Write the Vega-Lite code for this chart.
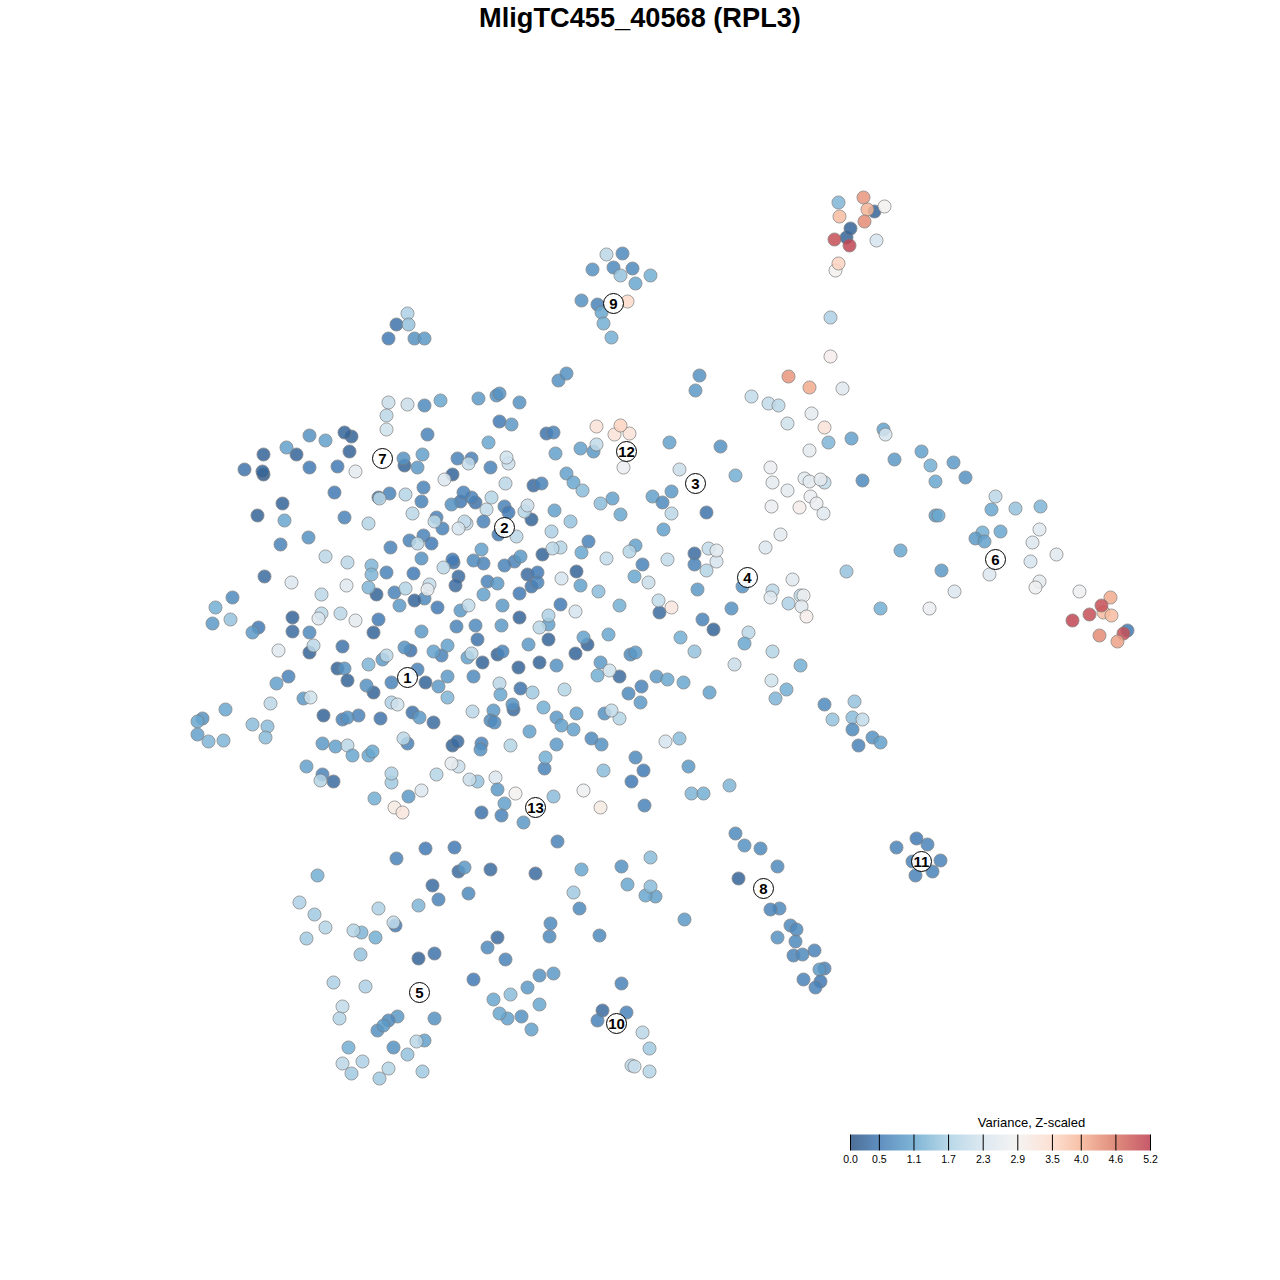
{"$schema":"https://vega.github.io/schema/vega-lite/v6.json","width":1280,"height":1280,"padding":0,"autosize":{"type":"none"},"background":"white",
"title":{"text":"MligTC455_40568 (RPL3)","font":"Liberation Sans","fontSize":27.2,"fontWeight":"bold","color":"#000000","anchor":"middle","baseline":"alphabetic","offset":-54},
"datasets":{"cells":[
{"x":388,"y":402,"v":2.1},{"x":407,"y":404,"v":2.1},{"x":424,"y":405,"v":0.7},{"x":440,"y":400,"v":1.1},{"x":478,"y":398,"v":0.9},{"x":386,"y":415,"v":1.9},{"x":386,"y":429,"v":2.2},{"x":427,"y":434,"v":0.6},{"x":309,"y":435,"v":0.8},{"x":325,"y":440,"v":1.0},{"x":351,"y":436,"v":0.2},{"x":344,"y":432,"v":0.2},{"x":296,"y":454,"v":0.2},{"x":286,"y":447,"v":1.0},{"x":263,"y":454,"v":0.2},{"x":349,"y":451,"v":0.2},{"x":244,"y":469,"v":0.4},{"x":263,"y":474,"v":0.1},{"x":262,"y":471,"v":0.2},{"x":309,"y":467,"v":0.5},{"x":337,"y":466,"v":0.5},{"x":355,"y":471,"v":2.6},{"x":404,"y":465,"v":0.2},{"x":403,"y":458,"v":0.8},{"x":422,"y":454,"v":1.0},{"x":417,"y":467,"v":0.9},{"x":471,"y":458,"v":0.6},{"x":457,"y":458,"v":0.6},{"x":468,"y":463,"v":2.0},{"x":490,"y":467,"v":0.6},{"x":452,"y":474,"v":0.2},{"x":444,"y":479,"v":2.4},{"x":334,"y":492,"v":0.5},{"x":378,"y":497,"v":0.3},{"x":389,"y":493,"v":0.6},{"x":379,"y":498,"v":1.9},{"x":405,"y":494,"v":1.8},{"x":423,"y":487,"v":0.6},{"x":421,"y":501,"v":0.6},{"x":475,"y":502,"v":0.4},{"x":471,"y":497,"v":0.6},{"x":460,"y":501,"v":0.5},{"x":463,"y":492,"v":0.6},{"x":451,"y":504,"v":0.8},{"x":491,"y":497,"v":1.8},{"x":486,"y":509,"v":2.0},{"x":282,"y":503,"v":0.2},{"x":257,"y":515,"v":0.2},{"x":284,"y":520,"v":1.1},{"x":344,"y":517,"v":0.6},{"x":368,"y":523,"v":1.8},{"x":412,"y":513,"v":1.9},{"x":436,"y":517,"v":0.6},{"x":442,"y":528,"v":0.6},{"x":434,"y":521,"v":1.9},{"x":466,"y":523,"v":2.0},{"x":464,"y":521,"v":2.0},{"x":458,"y":528,"v":2.3},{"x":483,"y":521,"v":0.6},{"x":308,"y":537,"v":0.8},{"x":280,"y":544,"v":0.6},{"x":325,"y":556,"v":1.9},{"x":347,"y":562,"v":1.9},{"x":390,"y":547,"v":0.6},{"x":409,"y":540,"v":0.6},{"x":423,"y":535,"v":0.6},{"x":431,"y":543,"v":0.5},{"x":417,"y":543,"v":1.9},{"x":421,"y":558,"v":0.8},{"x":453,"y":562,"v":0.4},{"x":452,"y":559,"v":0.5},{"x":443,"y":567,"v":1.9},{"x":483,"y":563,"v":0.6},{"x":473,"y":560,"v":0.7},{"x":481,"y":549,"v":1.0},{"x":371,"y":565,"v":1.3},{"x":371,"y":574,"v":1.3},{"x":386,"y":572,"v":0.6},{"x":413,"y":573,"v":0.5},{"x":264,"y":576,"v":0.3},{"x":291,"y":582,"v":2.4},{"x":346,"y":585,"v":2.5},{"x":376,"y":594,"v":0.2},{"x":368,"y":587,"v":1.3},{"x":394,"y":592,"v":0.6},{"x":405,"y":588,"v":1.8},{"x":429,"y":584,"v":2.0},{"x":424,"y":598,"v":0.7},{"x":427,"y":589,"v":2.6},{"x":458,"y":576,"v":0.3},{"x":455,"y":585,"v":0.3},{"x":487,"y":581,"v":0.6},{"x":483,"y":594,"v":1.0},{"x":414,"y":600,"v":0.2},{"x":399,"y":605,"v":0.9},{"x":437,"y":607,"v":0.5},{"x":460,"y":610,"v":0.9},{"x":468,"y":605,"v":2.0},{"x":232,"y":597,"v":0.7},{"x":215,"y":607,"v":1.2},{"x":230,"y":619,"v":1.5},{"x":212,"y":623,"v":0.9},{"x":292,"y":617,"v":0.2},{"x":321,"y":594,"v":1.9},{"x":321,"y":613,"v":1.9},{"x":318,"y":618,"v":2.4},{"x":340,"y":613,"v":1.9},{"x":355,"y":620,"v":2.6},{"x":378,"y":619,"v":0.5},
{"x":258,"y":627,"v":0.5},{"x":252,"y":632,"v":0.9},{"x":292,"y":631,"v":0.3},{"x":309,"y":632,"v":0.7},{"x":309,"y":652,"v":0.2},{"x":313,"y":645,"v":1.9},{"x":278,"y":650,"v":2.5},{"x":342,"y":646,"v":0.4},{"x":373,"y":632,"v":0.2},{"x":421,"y":631,"v":0.9},{"x":456,"y":626,"v":0.6},{"x":475,"y":625,"v":0.7},{"x":477,"y":639,"v":0.4},{"x":410,"y":650,"v":0.4},{"x":404,"y":647,"v":0.8},{"x":441,"y":655,"v":0.6},{"x":433,"y":651,"v":1.0},{"x":447,"y":645,"v":1.0},{"x":467,"y":657,"v":1.0},{"x":471,"y":653,"v":1.9},{"x":482,"y":662,"v":0.2},{"x":382,"y":659,"v":0.9},{"x":386,"y":655,"v":1.9},{"x":368,"y":664,"v":1.3},{"x":337,"y":668,"v":0.2},{"x":344,"y":668,"v":0.8},{"x":347,"y":680,"v":0.2},{"x":288,"y":676,"v":0.6},{"x":276,"y":683,"v":1.0},{"x":373,"y":692,"v":0.2},{"x":366,"y":685,"v":0.8},{"x":391,"y":682,"v":0.6},{"x":417,"y":669,"v":0.6},{"x":425,"y":682,"v":0.2},{"x":447,"y":676,"v":0.9},{"x":438,"y":686,"v":0.9},{"x":473,"y":676,"v":0.7},{"x":447,"y":697,"v":1.3},{"x":303,"y":698,"v":0.9},{"x":310,"y":697,"v":2.2},{"x":270,"y":703,"v":1.9},{"x":391,"y":702,"v":1.7},{"x":397,"y":704,"v":2.2},{"x":225,"y":709,"v":1.1},{"x":412,"y":712,"v":0.4},{"x":419,"y":717,"v":0.9},{"x":433,"y":722,"v":0.3},{"x":472,"y":711,"v":1.9},{"x":323,"y":715,"v":0.2},{"x":358,"y":715,"v":0.6},{"x":342,"y":719,"v":0.6},{"x":347,"y":717,"v":0.8},{"x":380,"y":718,"v":0.4},{"x":202,"y":718,"v":0.8},{"x":197,"y":721,"v":1.1},{"x":252,"y":724,"v":1.4},{"x":267,"y":726,"v":1.4},{"x":197,"y":734,"v":1.0},{"x":208,"y":741,"v":1.3},{"x":223,"y":740,"v":1.3},{"x":265,"y":737,"v":1.4},{"x":407,"y":743,"v":0.6},{"x":403,"y":738,"v":1.9},{"x":322,"y":743,"v":0.9},{"x":335,"y":746,"v":1.0},{"x":347,"y":745,"v":1.9},{"x":352,"y":755,"v":1.1},{"x":368,"y":755,"v":1.1},{"x":372,"y":751,"v":1.1},{"x":452,"y":745,"v":0.2},{"x":457,"y":741,"v":0.3},{"x":481,"y":743,"v":0.6},{"x":480,"y":749,"v":0.8},{"x":306,"y":766,"v":1.0},{"x":322,"y":774,"v":0.6},{"x":333,"y":781,"v":0.3},{"x":320,"y":780,"v":1.8},{"x":391,"y":782,"v":1.6},{"x":391,"y":773,"v":1.7},{"x":436,"y":774,"v":1.8},{"x":458,"y":766,"v":2.1},{"x":451,"y":763,"v":2.6},{"x":477,"y":781,"v":1.5},{"x":469,"y":779,"v":2.1},{"x":374,"y":798,"v":1.2},{"x":408,"y":796,"v":0.9},{"x":421,"y":790,"v":2.4},{"x":394,"y":807,"v":3.1},{"x":402,"y":812,"v":3.2},{"x":481,"y":812,"v":0.4},
{"x":496,"y":395,"v":0.8},{"x":499,"y":393,"v":0.8},{"x":519,"y":402,"v":0.8},{"x":558,"y":380,"v":0.8},{"x":566,"y":373,"v":0.8},{"x":499,"y":421,"v":0.5},{"x":511,"y":424,"v":0.9},{"x":695,"y":390,"v":0.9},{"x":699,"y":375,"v":0.8},{"x":488,"y":442,"v":1.1},{"x":546,"y":433,"v":0.4},{"x":553,"y":432,"v":0.6},{"x":555,"y":453,"v":1.0},{"x":580,"y":448,"v":1.0},{"x":593,"y":451,"v":0.9},{"x":596,"y":444,"v":2.0},{"x":596,"y":426,"v":3.3},{"x":614,"y":434,"v":3.3},{"x":629,"y":433,"v":3.3},{"x":620,"y":425,"v":3.6},{"x":623,"y":467,"v":2.7},{"x":669,"y":442,"v":1.0},{"x":720,"y":446,"v":0.8},{"x":679,"y":469,"v":2.1},{"x":735,"y":475,"v":1.2},{"x":508,"y":463,"v":2.1},{"x":506,"y":457,"v":2.2},{"x":505,"y":483,"v":1.9},{"x":533,"y":485,"v":0.3},{"x":541,"y":483,"v":0.6},{"x":566,"y":473,"v":1.0},{"x":573,"y":482,"v":1.1},{"x":582,"y":490,"v":1.4},{"x":612,"y":498,"v":1.0},{"x":600,"y":503,"v":1.4},{"x":620,"y":514,"v":1.1},{"x":652,"y":496,"v":1.0},{"x":662,"y":502,"v":0.7},{"x":671,"y":491,"v":0.9},{"x":671,"y":513,"v":1.9},{"x":706,"y":512,"v":0.4},{"x":663,"y":529,"v":1.0},{"x":504,"y":506,"v":0.6},{"x":508,"y":512,"v":0.5},{"x":531,"y":519,"v":0.2},{"x":524,"y":511,"v":1.8},{"x":527,"y":505,"v":2.1},{"x":554,"y":510,"v":1.0},{"x":570,"y":521,"v":1.5},{"x":498,"y":534,"v":0.5},{"x":516,"y":536,"v":1.9},{"x":551,"y":531,"v":1.7},{"x":588,"y":541,"v":0.6},{"x":581,"y":552,"v":1.1},{"x":560,"y":547,"v":1.8},{"x":542,"y":554,"v":0.2},{"x":552,"y":548,"v":1.9},{"x":514,"y":561,"v":0.6},{"x":520,"y":556,"v":0.9},{"x":504,"y":565,"v":0.6},{"x":635,"y":545,"v":1.0},{"x":629,"y":551,"v":1.8},{"x":606,"y":558,"v":2.0},{"x":642,"y":564,"v":0.6},{"x":667,"y":559,"v":2.0},{"x":694,"y":553,"v":0.3},{"x":694,"y":564,"v":0.6},{"x":708,"y":548,"v":2.0},{"x":716,"y":561,"v":2.3},{"x":716,"y":550,"v":2.5},{"x":706,"y":570,"v":1.8},{"x":634,"y":576,"v":1.1},{"x":648,"y":582,"v":2.1},{"x":697,"y":589,"v":0.9},{"x":576,"y":571,"v":0.2},{"x":561,"y":578,"v":2.3},{"x":580,"y":585,"v":1.0},{"x":598,"y":591,"v":1.4},{"x":527,"y":574,"v":0.3},{"x":537,"y":572,"v":0.5},{"x":531,"y":586,"v":0.4},{"x":537,"y":582,"v":0.6},{"x":519,"y":593,"v":0.5},{"x":497,"y":583,"v":0.9},{"x":502,"y":605,"v":0.9},{"x":560,"y":604,"v":0.5},{"x":575,"y":611,"v":2.3},{"x":619,"y":605,"v":1.2},{"x":659,"y":612,"v":0.3},{"x":658,"y":600,"v":2.0},{"x":671,"y":607,"v":3.2},{"x":702,"y":619,"v":0.6},{"x":731,"y":608,"v":0.8},{"x":519,"y":617,"v":0.2},
{"x":501,"y":625,"v":0.9},{"x":548,"y":624,"v":1.0},{"x":539,"y":627,"v":1.9},{"x":548,"y":615,"v":1.7},{"x":528,"y":644,"v":0.9},{"x":548,"y":639,"v":0.2},{"x":587,"y":644,"v":0.2},{"x":583,"y":637,"v":1.0},{"x":608,"y":634,"v":1.1},{"x":680,"y":637,"v":1.2},{"x":713,"y":629,"v":0.2},{"x":575,"y":653,"v":0.2},{"x":497,"y":654,"v":0.2},{"x":502,"y":651,"v":0.6},{"x":499,"y":683,"v":1.9},{"x":500,"y":694,"v":1.1},{"x":518,"y":667,"v":0.2},{"x":539,"y":662,"v":0.2},{"x":556,"y":665,"v":0.8},{"x":520,"y":688,"v":0.4},{"x":532,"y":692,"v":1.6},{"x":564,"y":689,"v":1.8},{"x":600,"y":662,"v":0.9},{"x":597,"y":675,"v":1.2},{"x":619,"y":676,"v":0.3},{"x":609,"y":670,"v":2.2},{"x":630,"y":654,"v":0.7},{"x":635,"y":652,"v":0.9},{"x":656,"y":676,"v":0.9},{"x":667,"y":679,"v":1.1},{"x":683,"y":682,"v":1.1},{"x":694,"y":651,"v":1.5},{"x":734,"y":664,"v":2.1},{"x":709,"y":692,"v":1.0},{"x":641,"y":686,"v":0.6},{"x":628,"y":693,"v":0.7},{"x":640,"y":702,"v":0.9},{"x":493,"y":710,"v":0.9},{"x":513,"y":709,"v":0.3},{"x":512,"y":704,"v":0.8},{"x":490,"y":720,"v":0.7},{"x":494,"y":722,"v":0.7},{"x":543,"y":707,"v":1.2},{"x":556,"y":717,"v":0.9},{"x":576,"y":713,"v":1.0},{"x":561,"y":725,"v":1.0},{"x":573,"y":729,"v":1.0},{"x":604,"y":713,"v":0.8},{"x":619,"y":718,"v":1.8},{"x":611,"y":710,"v":2.0},{"x":529,"y":731,"v":1.0},{"x":591,"y":738,"v":0.7},{"x":601,"y":744,"v":0.8},{"x":510,"y":745,"v":1.8},{"x":556,"y":744,"v":0.9},{"x":679,"y":738,"v":1.4},{"x":665,"y":741,"v":2.3},{"x":544,"y":768,"v":0.6},{"x":545,"y":757,"v":1.2},{"x":635,"y":757,"v":0.7},{"x":643,"y":770,"v":0.5},{"x":631,"y":781,"v":0.5},{"x":688,"y":766,"v":0.9},{"x":603,"y":770,"v":1.4},{"x":495,"y":777,"v":2.4},{"x":497,"y":789,"v":0.9},{"x":515,"y":793,"v":2.9},{"x":504,"y":803,"v":1.0},{"x":553,"y":796,"v":1.4},{"x":583,"y":790,"v":2.8},{"x":600,"y":807,"v":3.1},{"x":691,"y":793,"v":1.3},{"x":703,"y":793,"v":1.2},{"x":729,"y":785,"v":1.3},{"x":644,"y":805,"v":0.6},{"x":501,"y":815,"v":0.6},{"x":523,"y":822,"v":0.9},{"x":557,"y":841,"v":0.6},
{"x":838,"y":202,"v":1.3},{"x":839,"y":216,"v":3.9},{"x":874,"y":211,"v":0.2},{"x":884,"y":206,"v":2.9},{"x":863,"y":197,"v":4.3},{"x":867,"y":209,"v":4.0},{"x":864,"y":221,"v":4.4},{"x":846,"y":237,"v":0.2},{"x":850,"y":228,"v":0.2},{"x":834,"y":239,"v":5.0},{"x":849,"y":245,"v":5.1},{"x":876,"y":240,"v":2.3},{"x":835,"y":270,"v":2.9},{"x":838,"y":263,"v":3.6},
{"x":606,"y":254,"v":1.9},{"x":622,"y":253,"v":0.7},{"x":592,"y":269,"v":0.8},{"x":613,"y":267,"v":0.7},{"x":632,"y":268,"v":0.7},{"x":620,"y":275,"v":1.5},{"x":650,"y":275,"v":1.2},{"x":635,"y":283,"v":1.1},{"x":581,"y":300,"v":0.8},{"x":597,"y":304,"v":0.6},{"x":627,"y":301,"v":3.5},{"x":601,"y":312,"v":1.1},{"x":603,"y":323,"v":1.2},{"x":611,"y":337,"v":1.2},
{"x":396,"y":324,"v":0.4},{"x":407,"y":313,"v":1.7},{"x":408,"y":324,"v":1.5},{"x":388,"y":338,"v":0.5},{"x":414,"y":338,"v":0.8},{"x":424,"y":338,"v":0.9},
{"x":830,"y":317,"v":1.7},{"x":830,"y":356,"v":3.0},{"x":842,"y":388,"v":2.5},{"x":788,"y":376,"v":4.3},{"x":809,"y":387,"v":4.1},{"x":751,"y":396,"v":2.0},{"x":768,"y":403,"v":2.0},{"x":778,"y":405,"v":1.9},{"x":811,"y":413,"v":2.6},{"x":787,"y":423,"v":2.2},{"x":824,"y":427,"v":3.3},{"x":828,"y":442,"v":1.3},{"x":851,"y":438,"v":1.0},{"x":883,"y":429,"v":1.0},{"x":885,"y":434,"v":2.3},{"x":809,"y":450,"v":2.6},{"x":921,"y":451,"v":1.0},{"x":894,"y":459,"v":0.9},{"x":930,"y":465,"v":1.2},{"x":953,"y":462,"v":0.9},{"x":965,"y":477,"v":0.8},{"x":935,"y":481,"v":1.1},{"x":862,"y":480,"v":0.7},{"x":770,"y":467,"v":2.7},{"x":772,"y":482,"v":2.6},{"x":787,"y":490,"v":2.6},{"x":804,"y":478,"v":2.5},{"x":824,"y":482,"v":2.0},{"x":809,"y":481,"v":2.6},{"x":820,"y":479,"v":2.6},{"x":810,"y":496,"v":2.7},{"x":799,"y":507,"v":3.0},{"x":816,"y":503,"v":2.7},{"x":771,"y":506,"v":2.7},{"x":823,"y":513,"v":2.5},{"x":780,"y":534,"v":2.6},{"x":765,"y":547,"v":2.4},{"x":995,"y":496,"v":1.9},{"x":991,"y":509,"v":1.1},{"x":1015,"y":508,"v":1.5},{"x":1040,"y":506,"v":1.3},{"x":1039,"y":529,"v":2.5},{"x":935,"y":515,"v":0.9},{"x":938,"y":515,"v":1.1},{"x":982,"y":532,"v":1.2},{"x":1000,"y":531,"v":1.1},{"x":975,"y":538,"v":0.9},{"x":984,"y":541,"v":1.0},{"x":1032,"y":542,"v":2.4},{"x":1056,"y":554,"v":2.5},{"x":1030,"y":561,"v":2.3},{"x":900,"y":550,"v":1.1},{"x":941,"y":570,"v":0.9},{"x":846,"y":571,"v":1.5},{"x":989,"y":574,"v":2.4},{"x":1039,"y":581,"v":2.6},{"x":1035,"y":587,"v":2.8},{"x":954,"y":591,"v":2.4},{"x":929,"y":608,"v":2.7},{"x":880,"y":608,"v":1.2},{"x":792,"y":579,"v":2.5},{"x":772,"y":590,"v":1.9},{"x":770,"y":597,"v":2.5},{"x":800,"y":595,"v":1.9},{"x":803,"y":595,"v":2.8},{"x":788,"y":603,"v":1.7},{"x":801,"y":606,"v":2.5},{"x":806,"y":616,"v":3.0},{"x":1079,"y":591,"v":2.8},{"x":1110,"y":597,"v":4.1},{"x":1103,"y":612,"v":3.9},{"x":1111,"y":615,"v":3.9},{"x":1101,"y":605,"v":5.0},{"x":1089,"y":614,"v":5.0},{"x":1072,"y":620,"v":5.1},{"x":1127,"y":630,"v":0.5},{"x":1123,"y":633,"v":5.0},{"x":1099,"y":635,"v":4.4},{"x":1117,"y":641,"v":4.2},{"x":742,"y":586,"v":0.8},{"x":748,"y":632,"v":1.9},{"x":744,"y":643,"v":1.1},{"x":772,"y":651,"v":1.8},{"x":800,"y":665,"v":1.2},{"x":771,"y":680,"v":2.2},{"x":786,"y":689,"v":1.2},{"x":775,"y":698,"v":1.3},{"x":824,"y":704,"v":0.7},{"x":854,"y":701,"v":1.5},{"x":832,"y":719,"v":1.5},{"x":852,"y":717,"v":1.4},{"x":862,"y":719,"v":2.0},{"x":852,"y":729,"v":0.7},{"x":872,"y":737,"v":0.8},{"x":880,"y":742,"v":1.0},{"x":858,"y":745,"v":0.6},
{"x":735,"y":833,"v":0.7},{"x":744,"y":845,"v":0.8},{"x":760,"y":848,"v":0.7},{"x":777,"y":866,"v":0.7},{"x":738,"y":878,"v":0.2},{"x":779,"y":908,"v":0.7},{"x":770,"y":909,"v":0.6},{"x":790,"y":925,"v":0.7},{"x":796,"y":929,"v":0.7},{"x":777,"y":937,"v":0.8},{"x":795,"y":941,"v":0.7},{"x":814,"y":950,"v":0.6},{"x":793,"y":955,"v":0.6},{"x":802,"y":954,"v":0.7},{"x":824,"y":968,"v":0.6},{"x":819,"y":969,"v":0.9},{"x":803,"y":979,"v":0.6},{"x":820,"y":981,"v":0.5},{"x":815,"y":987,"v":0.6},
{"x":916,"y":838,"v":0.5},{"x":927,"y":844,"v":0.6},{"x":896,"y":847,"v":0.6},{"x":912,"y":861,"v":0.6},{"x":940,"y":860,"v":0.6},{"x":915,"y":875,"v":0.6},{"x":932,"y":871,"v":0.6},
{"x":425,"y":848,"v":0.5},{"x":454,"y":847,"v":0.5},{"x":396,"y":858,"v":0.6},{"x":458,"y":871,"v":0.3},{"x":464,"y":867,"v":0.9},{"x":490,"y":869,"v":0.3},{"x":535,"y":873,"v":0.3},{"x":581,"y":869,"v":1.1},{"x":621,"y":866,"v":0.8},{"x":650,"y":857,"v":1.4},{"x":317,"y":875,"v":1.2},{"x":432,"y":885,"v":0.3},{"x":627,"y":884,"v":1.1},{"x":655,"y":896,"v":1.0},{"x":645,"y":895,"v":1.1},{"x":650,"y":886,"v":1.4},{"x":573,"y":892,"v":1.6},{"x":468,"y":893,"v":0.7},{"x":438,"y":899,"v":0.6},{"x":418,"y":905,"v":1.3},{"x":299,"y":902,"v":1.7},{"x":378,"y":908,"v":1.7},{"x":314,"y":914,"v":1.6},{"x":579,"y":908,"v":0.7},{"x":684,"y":919,"v":0.9},{"x":395,"y":925,"v":0.5},{"x":393,"y":922,"v":2.0},{"x":550,"y":923,"v":0.7},{"x":325,"y":927,"v":1.8},{"x":361,"y":932,"v":1.3},{"x":353,"y":930,"v":1.8},{"x":375,"y":937,"v":1.2},{"x":306,"y":938,"v":1.6},{"x":549,"y":936,"v":0.7},{"x":599,"y":935,"v":0.7},{"x":497,"y":937,"v":0.3},{"x":487,"y":947,"v":0.7},{"x":360,"y":954,"v":1.5},{"x":434,"y":953,"v":0.4},{"x":418,"y":958,"v":0.2},{"x":505,"y":959,"v":0.6},{"x":553,"y":973,"v":0.9},{"x":539,"y":975,"v":0.8},{"x":473,"y":979,"v":0.5},{"x":333,"y":982,"v":1.7},{"x":365,"y":986,"v":1.7},{"x":527,"y":987,"v":0.9},{"x":621,"y":983,"v":0.6},{"x":510,"y":994,"v":1.4},{"x":493,"y":999,"v":1.1},{"x":539,"y":1004,"v":1.1},{"x":342,"y":1006,"v":2.0},{"x":602,"y":1010,"v":0.3},{"x":626,"y":1012,"v":0.6},{"x":507,"y":1018,"v":1.0},{"x":499,"y":1013,"v":1.1},{"x":521,"y":1016,"v":0.8},{"x":397,"y":1016,"v":0.9},{"x":388,"y":1020,"v":0.7},{"x":434,"y":1018,"v":0.8},{"x":339,"y":1018,"v":1.8},{"x":377,"y":1030,"v":0.8},{"x":383,"y":1025,"v":0.9},{"x":597,"y":1020,"v":0.6},{"x":531,"y":1029,"v":1.0},{"x":642,"y":1032,"v":1.9},{"x":424,"y":1040,"v":1.0},{"x":416,"y":1041,"v":1.9},{"x":393,"y":1047,"v":0.8},{"x":348,"y":1047,"v":1.2},{"x":649,"y":1048,"v":1.6},{"x":407,"y":1054,"v":1.5},{"x":342,"y":1063,"v":1.9},{"x":362,"y":1061,"v":1.7},{"x":631,"y":1065,"v":1.9},{"x":634,"y":1066,"v":2.1},{"x":388,"y":1068,"v":1.8},{"x":351,"y":1073,"v":1.6},{"x":422,"y":1071,"v":1.6},{"x":649,"y":1071,"v":1.8},{"x":379,"y":1078,"v":1.6}
],
"clusters":[{"x":407,"y":677,"c":"1"},{"x":504,"y":527,"c":"2"},{"x":695,"y":483,"c":"3"},{"x":747,"y":577,"c":"4"},{"x":419,"y":992,"c":"5"},{"x":995,"y":559,"c":"6"},{"x":382,"y":458,"c":"7"},{"x":763,"y":888,"c":"8"},{"x":613,"y":303,"c":"9"},{"x":616,"y":1023,"c":"10"},{"x":921,"y":861,"c":"11"},{"x":626,"y":451,"c":"12"},{"x":535,"y":807,"c":"13"}],
"bar":[{"t":0,"t2":5.2,"a":1134,"b":1150}],
"ticks":[{"t":0,"a":1134,"b":1150,"l":1159},{"t":0.5,"a":1134,"b":1150,"l":1159},{"t":1.1,"a":1134,"b":1150,"l":1159},{"t":1.7,"a":1134,"b":1150,"l":1159},{"t":2.3,"a":1134,"b":1150,"l":1159},{"t":2.9,"a":1134,"b":1150,"l":1159},{"t":3.5,"a":1134,"b":1150,"l":1159},{"t":4.0,"a":1134,"b":1150,"l":1159},{"t":4.6,"a":1134,"b":1150,"l":1159},{"t":5.2,"a":1134,"b":1150,"l":1159}],
"legendTitle":[{"x":1031,"y":1122,"t":"Variance, Z-scaled"}]},
"layer":[
{"data":{"name":"cells"},"mark":{"type":"circle","size":172,"opacity":0.85,"stroke":"#7a7a7a","strokeWidth":0.8},
"encoding":{"x":{"field":"x","type":"quantitative","scale":{"domain":[-0.5,1279.5]},"axis":null},"y":{"field":"y","type":"quantitative","scale":{"domain":[1279.5,-0.5]},"axis":null},
"fill":{"field":"v","type":"quantitative","legend":null,"scale":{"interpolate":"rgb","domain":[0,0.5,1.1,1.7,2.3,2.9,3.5,4.0,4.6,5.2],"range":["#2e5684","#437bb5","#69a8cf","#add1e4","#d7e5ef","#f3f1f0","#fddbca","#f6b596","#d97765","#bc3d50"]}}}},
{"data":{"name":"bar"},"mark":{"type":"rect","fill":{"gradient":"linear","x1":0,"x2":1,"y1":0,"y2":0,"stops":[{"offset":0,"color":"#4d6f96"},{"offset":0.0962,"color":"#5f8fc0"},{"offset":0.2115,"color":"#7fb5d6"},{"offset":0.3269,"color":"#b9d8e8"},{"offset":0.4423,"color":"#dde9f1"},{"offset":0.5577,"color":"#f5f3f2"},{"offset":0.6731,"color":"#fde0d2"},{"offset":0.7692,"color":"#f7c0a6"},{"offset":0.8846,"color":"#df8b7c"},{"offset":1,"color":"#c65a6a"}]}},
"encoding":{"x":{"field":"t","type":"quantitative","scale":{"domain":[0,5.2],"range":[850.5,1150.5]},"axis":null},"x2":{"field":"t2"},"y":{"field":"a","type":"quantitative","scale":{"domain":[1279.5,-0.5]},"axis":null},"y2":{"field":"b"}}},
{"data":{"name":"ticks"},"mark":{"type":"rule","color":"#000000","strokeWidth":1},
"encoding":{"x":{"field":"t","type":"quantitative","scale":{"domain":[0,5.2],"range":[850.5,1150.5]},"axis":null},"y":{"field":"a","type":"quantitative","scale":{"domain":[1279.5,-0.5]},"axis":null},"y2":{"field":"b"}}},
{"data":{"name":"ticks"},"mark":{"type":"text","font":"Liberation Sans","fontSize":10.5,"color":"#000000","align":"center","baseline":"middle"},
"encoding":{"x":{"field":"t","type":"quantitative","scale":{"domain":[0,5.2],"range":[850.5,1150.5]},"axis":null},"y":{"field":"l","type":"quantitative","scale":{"domain":[1279.5,-0.5]},"axis":null},"text":{"field":"t","type":"quantitative","format":".1f"}}},
{"data":{"name":"legendTitle"},"mark":{"type":"text","font":"Liberation Sans","fontSize":13,"color":"#000000","align":"center","baseline":"middle"},
"encoding":{"x":{"field":"x","type":"quantitative","scale":{"domain":[-0.5,1279.5]},"axis":null},"y":{"field":"y","type":"quantitative","scale":{"domain":[1279.5,-0.5]},"axis":null},"text":{"field":"t"}}},
{"data":{"name":"clusters"},"mark":{"type":"circle","size":400,"opacity":1,"fill":"#ffffff","fillOpacity":0.9,"stroke":"#000000","strokeWidth":1},
"encoding":{"x":{"field":"x","type":"quantitative","scale":{"domain":[-0.5,1279.5]},"axis":null},"y":{"field":"y","type":"quantitative","scale":{"domain":[1279.5,-0.5]},"axis":null}}},
{"data":{"name":"clusters"},"mark":{"type":"text","font":"Liberation Sans","fontSize":15,"fontWeight":"bold","color":"#000000","align":"center","baseline":"middle"},
"encoding":{"x":{"field":"x","type":"quantitative","scale":{"domain":[-0.5,1279.5]},"axis":null},"y":{"field":"y","type":"quantitative","scale":{"domain":[1279.5,-0.5]},"axis":null},"text":{"field":"c"}}}
],
"resolve":{"scale":{"x":"independent"}},
"config":{"view":{"stroke":null}}}
